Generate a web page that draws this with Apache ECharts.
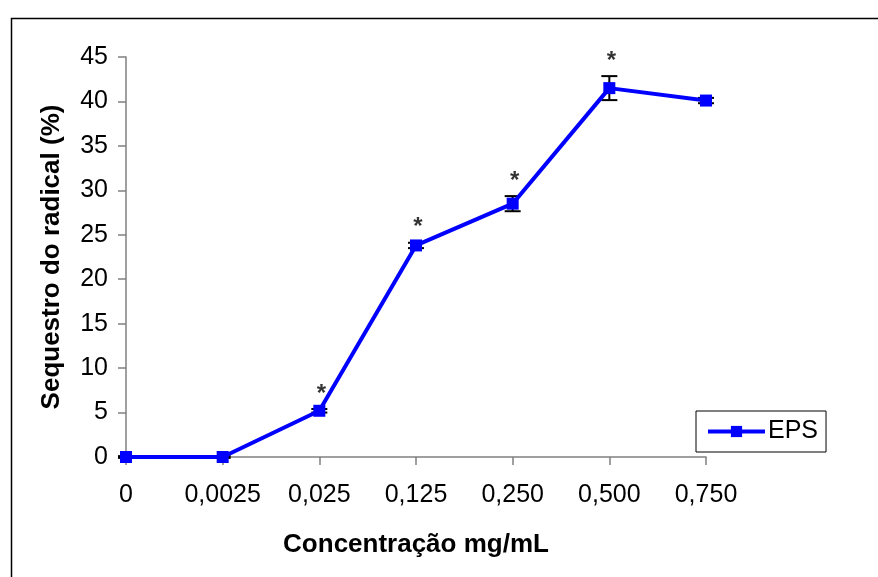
<!DOCTYPE html>
<html>
<head>
<meta charset="utf-8">
<script src="https://cdn.jsdelivr.net/npm/echarts@6/dist/echarts.min.js"></script>
<style>html,body{margin:0;padding:0;background:#fff;}#c{width:878px;height:577px;}</style>
</head>
<body>
<div id="c"></div>
<script>
const categories = ['0', '0,0025', '0,025', '0,125', '0,250', '0,500', '0,750'];
const epsValues = [0, 0, 5.2, 23.8, 28.5, 41.5, 40.1];
const epsErrors = [0.1, 0.1, 0.2, 0.3, 0.85, 1.35, 0.3];
const significant = [false, false, true, true, true, true, false];
const yTicks = [0, 5, 10, 15, 20, 25, 30, 35, 40, 45];

const FONT = 'Liberation Sans, Arial, sans-serif';
const chart = echarts.init(document.getElementById('c'), null, {renderer: 'canvas'});

const errData = epsValues.map((v, i) => [i, v - epsErrors[i], v + epsErrors[i]]);
const starData = epsValues.map((v, i) => significant[i] ? [i, v + epsErrors[i]] : null).filter(d => d);

chart.setOption({
  animation: false,
  backgroundColor: '#fff',
  graphic: [{
    type: 'rect', left: 9, top: 16, shape: {x: 0, y: 0, width: 900, height: 600},
    style: {fill: 'none', stroke: '#000', lineWidth: 1.5}, z: 0, silent: true
  }],
  grid: {left: 126, right: 172, top: 57, bottom: 120, containLabel: false},
  legend: {
    left: 696, top: 411, orient: 'horizontal',
    data: ['EPS'],
    itemWidth: 57, itemHeight: 14, itemGap: 4,
    padding: [8, 8, 8, 10],
    borderColor: '#000', borderWidth: 1, borderRadius: 0,
    lineStyle: {width: 4, color: '#0000FF'},
    itemStyle: {color: '#0000FF'},
    textStyle: {fontFamily: FONT, fontSize: 25, color: '#000', padding: [0, 0, 0, -2]}
  },
  xAxis: {
    type: 'category', data: categories, boundaryGap: false,
    axisLine: {lineStyle: {color: '#808080', width: 1.5}},
    axisTick: {show: true, length: 8, interval: 0, lineStyle: {color: '#808080', width: 1.5}},
    axisLabel: {fontFamily: FONT, fontSize: 25, color: '#000', margin: 26, interval: 0, hideOverlap: false},
    splitLine: {show: false},
    name: 'Concentração mg/mL', nameLocation: 'middle', nameGap: 75,
    nameTextStyle: {fontFamily: FONT, fontSize: 26, fontWeight: 'bold', color: '#000'}
  },
  yAxis: {
    type: 'value', min: 0, max: 45, interval: 5,
    axisLine: {show: true, lineStyle: {color: '#808080', width: 1.5}},
    axisTick: {show: true, length: 8, lineStyle: {color: '#808080', width: 1.5}},
    axisLabel: {fontFamily: FONT, fontSize: 25, color: '#000', margin: 18,
      formatter: v => yTicks.includes(v) ? String(v) : ''},
    splitLine: {show: false},
    name: 'Sequestro do radical (%)', nameLocation: 'middle', nameGap: 61, nameRotate: 90,
    nameTextStyle: {fontFamily: FONT, fontSize: 26, fontWeight: 'bold', color: '#000'}
  },
  series: [
    {
      name: 'EPS', type: 'line', data: epsValues,
      symbol: 'rect', symbolSize: 12,
      lineStyle: {color: '#0000FF', width: 4},
      itemStyle: {color: '#0000FF'},
      z: 3
    },
    {
      name: 'err', type: 'custom', data: errData, z: 2,
      renderItem: function (params, api) {
        const lo = api.coord([api.value(0), api.value(1)]);
        const hi = api.coord([api.value(0), api.value(2)]);
        const hw = 8;
        const st = {stroke: '#000', lineWidth: 2};
        return {type: 'group', children: [
          {type: 'line', shape: {x1: lo[0], y1: lo[1], x2: hi[0], y2: hi[1]}, style: st},
          {type: 'line', shape: {x1: lo[0] - hw, y1: lo[1], x2: lo[0] + hw, y2: lo[1]}, style: st},
          {type: 'line', shape: {x1: hi[0] - hw, y1: hi[1], x2: hi[0] + hw, y2: hi[1]}, style: st}
        ]};
      }
    },
    {
      name: 'sig', type: 'scatter', data: starData, symbolSize: 0, z: 4,
      label: {show: true, position: 'top', distance: 3, formatter: '*',
        fontFamily: FONT, fontSize: 24, fontWeight: 'bold', color: '#000', offset: [2, 0]}
    }
  ]
});
</script>
</body>
</html>
